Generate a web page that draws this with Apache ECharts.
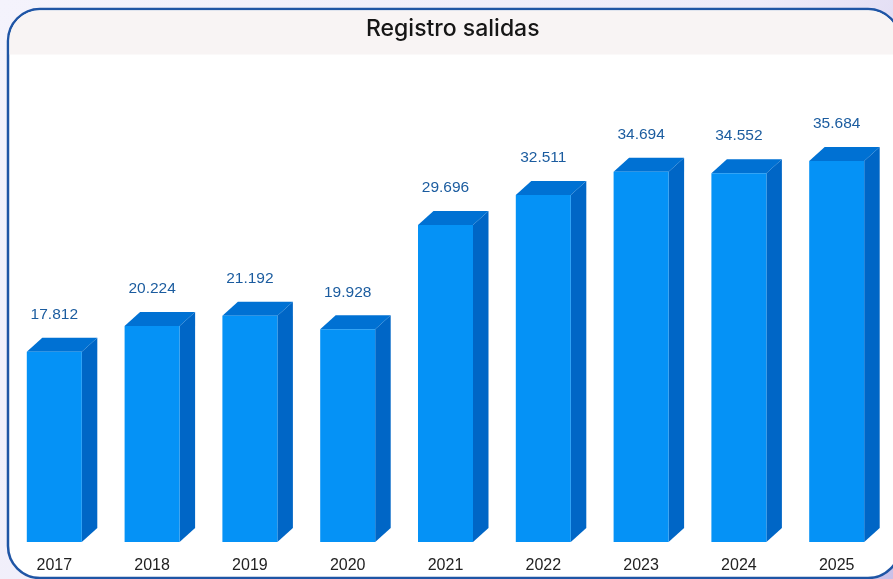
<!DOCTYPE html>
<html><head><meta charset="utf-8">
<style>html,body{margin:0;padding:0;width:893px;height:579px;overflow:hidden;background:#fff}#c{width:893px;height:579px}</style>
<script src="https://cdn.jsdelivr.net/npm/echarts@6/dist/echarts.min.js"></script>
</head><body><div id="c"></div>
<script>
const chartTitle = 'Registro salidas';
const years = ['2017','2018','2019','2020','2021','2022','2023','2024','2025'];
const salidas = [17812,20224,21192,19928,29696,32511,34694,34552,35684];
const fmt = v => String(v).replace(/(\d)(\d{3})$/, '$1.$2');

const chart = echarts.init(document.getElementById('c'), null, {renderer:'canvas'});
chart.setOption({
  animation:false,
  backgroundColor:{type:'linear',x:0,y:0,x2:1,y2:1,colorStops:[
    {offset:0,color:'#f4f3fc'},{offset:0.6,color:'#eeebf9'},{offset:1,color:'#c9c0e8'}]},
  graphic:[
    {type:'rect',z:-10,silent:true,shape:{x:8,y:9,width:892,height:569,r:32},
     style:{fill:'#ffffff',stroke:'#1f55a5',lineWidth:2.5}},
    {type:'rect',z:-9,silent:true,shape:{x:9.5,y:10.5,width:889,height:44,r:[30,30,0,0]},
     style:{fill:'#f8f4f4'}}
  ],
  title:{text:chartTitle,left:361,top:13,
    textStyle:{fontFamily:'Inter',fontSize:23,fontWeight:500,color:'#161616'}},
  grid:{left:5.4,top:115,width:880.2,height:427,containLabel:false},
  xAxis:{type:'category',data:years,
    axisLine:{show:false},axisTick:{show:false},
    axisLabel:{margin:15,fontFamily:'Liberation Sans',fontSize:16,color:'#222222',lineHeight:17}},
  yAxis:{type:'value',min:0,max:40000,show:false,splitLine:{show:false}},
  series:[{
    type:'custom',
    data:salidas.map((v,i)=>[i,v]),
    encode:{x:0,y:1},
    clip:false,
    renderItem(params,api){
      const p = api.coord([api.value(0),api.value(1)]);
      const b = api.coord([api.value(0),0]);
      const w = 55, dx = 15.5, dy = 14;
      const x0 = p[0]-w/2, x1 = x0+w, yt = p[1], yb = b[1];
      return {type:'group',children:[
        {type:'polygon',shape:{points:[[x1,yt],[x1+dx,yt-dy],[x1+dx,yb-dy],[x1,yb]]},style:{fill:'#0066c6'}},
        {type:'polygon',shape:{points:[[x0,yt],[x0+dx,yt-dy],[x1+dx,yt-dy],[x1,yt]]},style:{fill:'#0071d3'}},
        {type:'rect',shape:{x:x0,y:yt,width:w,height:yb-yt},style:{fill:'#0592f6'}},
        {type:'text',style:{text:fmt(api.value(1)),x:p[0],y:yt-37,align:'center',verticalAlign:'middle',
          fontFamily:'Liberation Sans',fontSize:15.5,fill:'#1b5c9f'}}
      ]};
    }
  }]
});
</script></body></html>
